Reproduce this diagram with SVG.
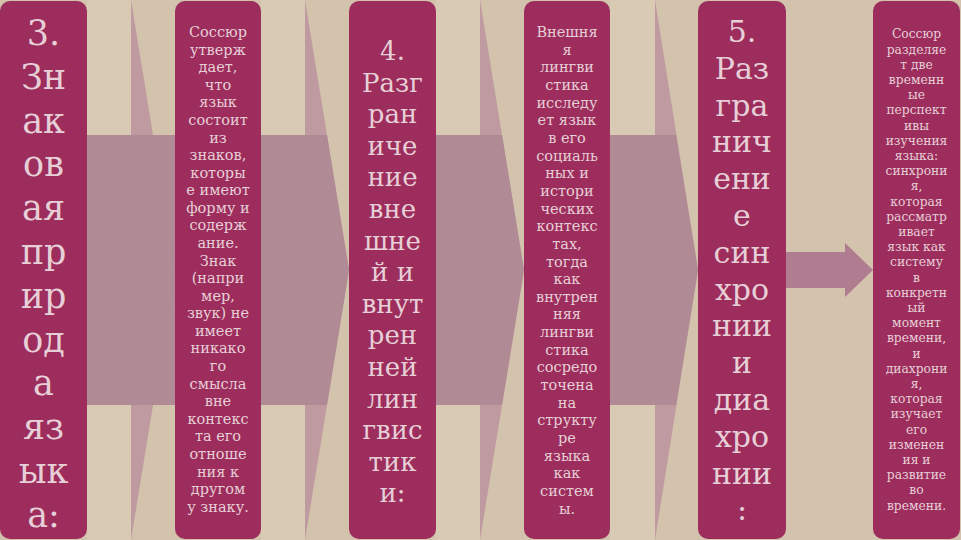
<svg xmlns="http://www.w3.org/2000/svg" width="961" height="540" viewBox="0 0 961 540">
<style>
.bg{fill:#d3c2ac}
.lite{fill:#d9cab4}
.shaft{fill:#b08a94}
.head{fill:#bf9aa0}
.box{fill:#9c2d5c}
.t{fill:#e7cfd7;font-family:"DejaVu Serif","Liberation Serif",serif;text-anchor:middle}
.big{font-size:35px}
.mid{font-size:26px}
.m5{font-size:30px}
.sm{font-size:14.5px}
.xs{font-size:12.3px}
.arr{fill:#b07c90}
</style>
<rect class="bg" x="0" y="0" width="961" height="540"/>
<g id="connectors">
  <g id="arrow1">
    <rect class="lite" x="87" y="0" width="44" height="540"/>
    <polygon class="head" points="131,0 175,270 131,540"/>
    <rect class="shaft" x="87" y="135" width="88" height="270"/>
    <polygon class="shaft" points="131,135 153,135 175,270 153,405 131,405"/>
  </g>
  <g id="arrow2">
    <rect class="lite" x="261" y="0" width="44" height="540"/>
    <polygon class="head" points="305,0 349,270 305,540"/>
    <rect class="shaft" x="261" y="135" width="44" height="270"/>
    <polygon class="shaft" points="305,135 327,135 349,270 327,405 305,405"/>
  </g>
  <g id="arrow3">
    <rect class="lite" x="436" y="0" width="44" height="540"/>
    <polygon class="head" points="480,0 524,270 480,540"/>
    <rect class="shaft" x="436" y="135" width="44" height="270"/>
    <polygon class="shaft" points="480,135 502,135 524,270 502,405 480,405"/>
  </g>
  <g id="arrow4">
    <rect class="lite" x="610" y="0" width="45" height="540"/>
    <polygon class="head" points="655,0 698,270 655,540"/>
    <rect class="shaft" x="610" y="135" width="45" height="270"/>
    <polygon class="shaft" points="655,135 676,135 698,270 676,405 655,405"/>
  </g>
  <polygon id="arrow5" class="arr" points="786,252 845,252 845,243 873,270 845,297 845,288 786,288"/>
</g>
<g id="node1">
  <rect class="box" x="0" y="1" width="87" height="538" rx="10"/>
  <text class="t big" x="43.5" y="45">
    <tspan x="43.5" y="45">3.</tspan><tspan x="43.5" y="88.8">Зн</tspan><tspan x="43.5" y="132.6">ак</tspan><tspan x="43.5" y="176.4">ов</tspan><tspan x="43.5" y="220.2">ая</tspan><tspan x="43.5" y="264">пр</tspan><tspan x="43.5" y="307.8">ир</tspan><tspan x="43.5" y="351.6">од</tspan><tspan x="43.5" y="395.4">а</tspan><tspan x="43.5" y="439.2">яз</tspan><tspan x="43.5" y="483">ык</tspan><tspan x="43.5" y="526.8">а:</tspan>
  </text>
</g>
<g id="node2">
  <rect class="box" x="175" y="1" width="86" height="538" rx="10"/>
  <text class="t sm">
    <tspan x="218" y="37">Соссюр</tspan><tspan x="218" y="54.6">утверж</tspan><tspan x="218" y="72.2">дает,</tspan><tspan x="218" y="89.7">что</tspan><tspan x="218" y="107.3">язык</tspan><tspan x="218" y="124.9">состоит</tspan><tspan x="218" y="142.5">из</tspan><tspan x="218" y="160.1">знаков,</tspan><tspan x="218" y="177.6">которы</tspan><tspan x="218" y="195.2">е имеют</tspan><tspan x="218" y="212.8">форму и</tspan><tspan x="218" y="230.4">содерж</tspan><tspan x="218" y="248">ание.</tspan><tspan x="218" y="265.5">Знак</tspan><tspan x="218" y="283.1">(напри</tspan><tspan x="218" y="300.7">мер,</tspan><tspan x="218" y="318.3">звук) не</tspan><tspan x="218" y="335.9">имеет</tspan><tspan x="218" y="353.4">никако</tspan><tspan x="218" y="371">го</tspan><tspan x="218" y="388.6">смысла</tspan><tspan x="218" y="406.2">вне</tspan><tspan x="218" y="423.8">контекс</tspan><tspan x="218" y="441.3">та его</tspan><tspan x="218" y="458.9">отноше</tspan><tspan x="218" y="476.5">ния к</tspan><tspan x="218" y="494.1">другом</tspan><tspan x="218" y="511.7">у знаку.</tspan>
  </text>
</g>
<g id="node3">
  <rect class="box" x="349" y="1" width="87" height="538" rx="10"/>
  <text class="t mid">
    <tspan x="392.5" y="60">4.</tspan><tspan x="392.5" y="91.6">Разг</tspan><tspan x="392.5" y="123.2">ран</tspan><tspan x="392.5" y="154.8">иче</tspan><tspan x="392.5" y="186.4">ние</tspan><tspan x="392.5" y="218">вне</tspan><tspan x="392.5" y="249.6">шне</tspan><tspan x="392.5" y="281.2">й и</tspan><tspan x="392.5" y="312.8">внут</tspan><tspan x="392.5" y="344.4">рен</tspan><tspan x="392.5" y="376">ней</tspan><tspan x="392.5" y="407.6">лин</tspan><tspan x="392.5" y="439.2">гвис</tspan><tspan x="392.5" y="470.8">тик</tspan><tspan x="392.5" y="502.4">и:</tspan>
  </text>
</g>
<g id="node4">
  <rect class="box" x="524" y="1" width="86" height="538" rx="10"/>
  <text class="t sm">
    <tspan x="567" y="37">Внешня</tspan><tspan x="567" y="54.7">я</tspan><tspan x="567" y="72.3">лингви</tspan><tspan x="567" y="90">стика</tspan><tspan x="567" y="107.6">исследу</tspan><tspan x="567" y="125.3">ет язык</tspan><tspan x="567" y="142.9">в его</tspan><tspan x="567" y="160.6">социаль</tspan><tspan x="567" y="178.2">ных и</tspan><tspan x="567" y="195.9">истори</tspan><tspan x="567" y="213.5">ческих</tspan><tspan x="567" y="231.2">контекс</tspan><tspan x="567" y="248.8">тах,</tspan><tspan x="567" y="266.5">тогда</tspan><tspan x="567" y="284.1">как</tspan><tspan x="567" y="301.8">внутрен</tspan><tspan x="567" y="319.4">няя</tspan><tspan x="567" y="337.1">лингви</tspan><tspan x="567" y="354.7">стика</tspan><tspan x="567" y="372.4">сосредо</tspan><tspan x="567" y="390">точена</tspan><tspan x="567" y="407.7">на</tspan><tspan x="567" y="425.3">структу</tspan><tspan x="567" y="443">ре</tspan><tspan x="567" y="460.6">языка</tspan><tspan x="567" y="478.3">как</tspan><tspan x="567" y="495.9">систем</tspan><tspan x="567" y="513.6">ы.</tspan>
  </text>
</g>
<g id="node5">
  <rect class="box" x="698" y="1" width="88" height="538" rx="10"/>
  <text class="t m5">
    <tspan x="742" y="42">5.</tspan><tspan x="742" y="78.8">Раз</tspan><tspan x="742" y="115.6">гра</tspan><tspan x="742" y="152.4">нич</tspan><tspan x="742" y="189.2">ени</tspan><tspan x="742" y="226">е</tspan><tspan x="742" y="262.8">син</tspan><tspan x="742" y="299.6">хро</tspan><tspan x="742" y="336.4">нии</tspan><tspan x="742" y="373.2">и</tspan><tspan x="742" y="410">диа</tspan><tspan x="742" y="446.8">хро</tspan><tspan x="742" y="483.6">нии</tspan><tspan x="742" y="520.4">:</tspan>
  </text>
</g>
<g id="node6">
  <rect class="box" x="873" y="1" width="87" height="538" rx="10"/>
  <text class="t xs">
    <tspan x="916.5" y="38.3">Соссюр</tspan><tspan x="916.5" y="53.5">разделяе</tspan><tspan x="916.5" y="68.7">т две</tspan><tspan x="916.5" y="83.9">временн</tspan><tspan x="916.5" y="99.1">ые</tspan><tspan x="916.5" y="114.3">перспект</tspan><tspan x="916.5" y="129.5">ивы</tspan><tspan x="916.5" y="144.7">изучения</tspan><tspan x="916.5" y="159.9">языка:</tspan><tspan x="916.5" y="175.1">синхрони</tspan><tspan x="916.5" y="190.3">я,</tspan><tspan x="916.5" y="205.5">которая</tspan><tspan x="916.5" y="220.7">рассматр</tspan><tspan x="916.5" y="235.9">ивает</tspan><tspan x="916.5" y="251.1">язык как</tspan><tspan x="916.5" y="266.3">систему</tspan><tspan x="916.5" y="281.5">в</tspan><tspan x="916.5" y="296.7">конкретн</tspan><tspan x="916.5" y="311.9">ый</tspan><tspan x="916.5" y="327.1">момент</tspan><tspan x="916.5" y="342.3">времени,</tspan><tspan x="916.5" y="357.5">и</tspan><tspan x="916.5" y="372.7">диахрони</tspan><tspan x="916.5" y="387.9">я,</tspan><tspan x="916.5" y="403.1">которая</tspan><tspan x="916.5" y="418.3">изучает</tspan><tspan x="916.5" y="433.5">его</tspan><tspan x="916.5" y="448.7">изменен</tspan><tspan x="916.5" y="463.9">ия и</tspan><tspan x="916.5" y="479.1">развитие</tspan><tspan x="916.5" y="494.3">во</tspan><tspan x="916.5" y="509.5">времени.</tspan>
  </text>
</g>
</svg>
